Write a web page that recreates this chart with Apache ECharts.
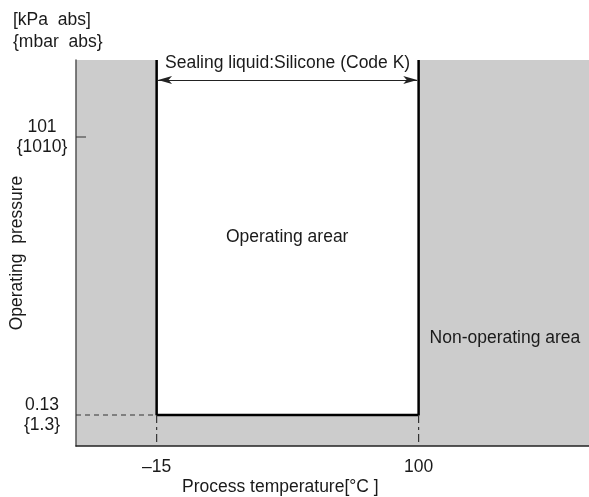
<!DOCTYPE html>
<html>
<head>
<meta charset="utf-8">
<script src="https://cdn.jsdelivr.net/npm/echarts@6/dist/echarts.min.js"></script>
<style>html,body{margin:0;padding:0;background:#fff}#c{width:589px;height:497px}</style>
</head>
<body>
<div id="c"></div>
<script>
// Data (schematic values)
const xRange = [-50.4, 174.8];          // temperature axis extent [°C]
const yRange = [0.0619, 638];           // pressure axis extent [kPa abs], log scale
const tempLimits = [-15, 100];          // operating temperature limits
const pressureLimits = [0.13, 101];     // pressure reference values
const xTickLabels = ['\u201315', '100'];
const yTickLabels = ['101\n{1010}', '0.13\n{1.3}'];
const arrowPressure = 396;
const sealingLabelPressure = 590;
const sealingLabel = 'Sealing liquid:Silicone (Code K)';
const opLabel = {x: 42.3, y: 9.2, text: 'Operating arear'};
const nonOpLabel = {x: 104.8, y: 0.822, text: 'Non-operating area'};

const FONT = 'Liberation Sans';
const FS = 17.5;
const TXT = '#1a1a1a';
const chart = echarts.init(document.getElementById('c'));
const [xMin, xMax] = xRange, [yMin, yMax] = yRange;
const [tL, tH] = tempLimits, [pL, pH] = pressureLimits;
const textItem = {opacity: 1, color: 'transparent'};

chart.setOption({
  animation: false,
  textStyle: {fontFamily: FONT},
  grid: {left: 74, right: 0, top: 60, bottom: 51, show: true, backgroundColor: '#cccccc', borderWidth: 0},
  xAxis: {type: 'value', min: xMin, max: xMax,
    axisLine: {show: true, onZero: false, lineStyle: {color: '#222', width: 1.5}},
    axisTick: {show: false}, axisLabel: {show: false}, splitLine: {show: false}},
  yAxis: {type: 'log', min: yMin, max: yMax, logBase: 10,
    name: 'Operating  pressure', nameLocation: 'middle', nameGap: 50,
    nameTextStyle: {fontSize: FS, color: TXT, fontFamily: FONT},
    axisLine: {show: true, onZero: false, lineStyle: {color: '#555', width: 1.5}},
    axisTick: {show: false}, axisLabel: {show: false}, splitLine: {show: false}},
  title: [
    {text: '[kPa  abs]\n{mbar  abs}', left: 13, top: 9, padding: 0,
     textStyle: {fontSize: FS, fontWeight: 'normal', color: TXT, fontFamily: FONT, lineHeight: 22}},
    {text: 'Process temperature[\u00b0C ]', left: 182, top: 478, padding: 0,
     textStyle: {fontSize: FS, fontWeight: 'normal', color: TXT, fontFamily: FONT}}
  ],
  series: [
    {type: 'line', silent: true, symbol: 'none', data: [],
     markArea: {silent: true, itemStyle: {color: '#ffffff'},
       data: [[{coord: [tL, pL]}, {coord: [tH, yMax]}]]}},
    {type: 'line', symbol: 'none', lineStyle: {color: '#000', width: 2.5},
     data: [[tL, yMax], [tL, pL], [tH, pL], [tH, yMax]]},
    {type: 'line', symbol: 'none', lineStyle: {color: '#333', width: 1, type: [5, 4]},
     data: [[xMin, pL], [tL, pL]]},
    {type: 'line', symbol: 'none', lineStyle: {color: '#333', width: 1.2, type: [8, 4, 3, 4]},
     data: [[tL, pL], [tL, yMin]]},
    {type: 'line', symbol: 'none', lineStyle: {color: '#333', width: 1.2, type: [8, 4, 3, 4]},
     data: [[tH, pL], [tH, yMin]]},
    {type: 'line', symbol: 'none', lineStyle: {color: '#333', width: 1.2},
     data: [[xMin, pH], [xMin + 4.4, pH]]},
    {type: 'line', symbol: 'none', data: [],
     markLine: {silent: true, symbol: ['arrow', 'arrow'], symbolSize: [6, 14],
       lineStyle: {color: '#222', width: 1.2, type: 'solid'}, label: {show: false},
       data: [[{coord: [tL + 0.6, arrowPressure]}, {coord: [tH - 0.6, arrowPressure]}]]}},
    {type: 'scatter', symbolSize: 0, clip: false, itemStyle: textItem,
     label: {show: true, position: 'inside', fontSize: FS, color: TXT, fontFamily: FONT,
       formatter: p => p.data[2]},
     data: [[(tL + tH) / 2, sealingLabelPressure, sealingLabel],
            [opLabel.x, opLabel.y, opLabel.text]]},
    {type: 'scatter', symbolSize: 0, clip: false, itemStyle: textItem,
     label: {show: true, position: 'right', distance: 0, fontSize: FS, color: TXT, fontFamily: FONT,
       formatter: p => p.data[2]},
     data: [[nonOpLabel.x, nonOpLabel.y, nonOpLabel.text]]},
    {type: 'scatter', symbolSize: 0, clip: false, itemStyle: textItem,
     label: {show: true, position: 'inside', offset: [-34, 0], fontSize: FS, color: TXT,
       fontFamily: FONT, lineHeight: 20, align: 'center', formatter: p => p.data[2]},
     data: [[xMin, pH, yTickLabels[0]], [xMin, pL, yTickLabels[1]]]},
    {type: 'scatter', symbolSize: 0, clip: false, itemStyle: textItem,
     label: {show: true, position: 'inside', offset: [0, 21], fontSize: FS, color: TXT,
       fontFamily: FONT, formatter: p => p.data[2]},
     data: [[tL, yMin, xTickLabels[0]], [tH, yMin, xTickLabels[1]]]}
  ]
});
</script>
</body>
</html>
